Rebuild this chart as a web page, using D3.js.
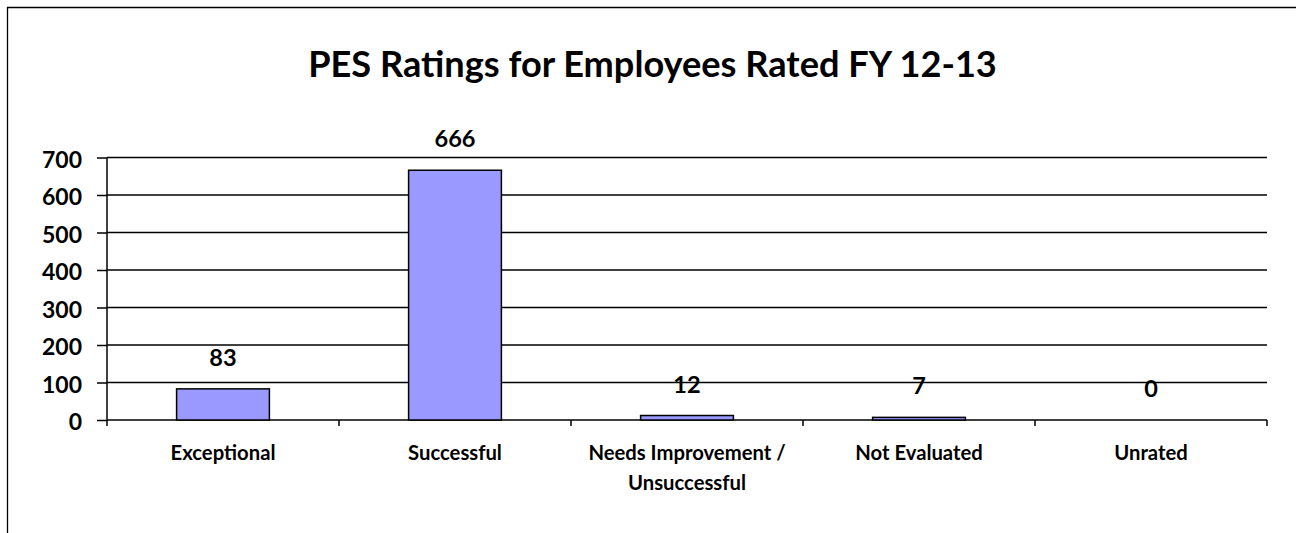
<!DOCTYPE html>
<html>
<head>
<meta charset="utf-8">
<script src="https://cdn.jsdelivr.net/npm/d3@7"></script>
<style>
  html, body { margin: 0; padding: 0; background: #fff; overflow: hidden; }
  svg { display: block; }
  text { font-family: Lato, "Open Sans", sans-serif; font-weight: bold; fill: #000; }
</style>
</head>
<body>
<svg id="chart" width="1296" height="533"></svg>
<script>
const title = "PES Ratings for Employees Rated FY 12-13";
const categories = ["Exceptional", "Successful", "Needs Improvement /\nUnsuccessful", "Not Evaluated", "Unrated"];
const values = [83, 666, 12, 7, 0];
const yTicks = [0, 100, 200, 300, 400, 500, 600, 700];

const svg = d3.select("#chart");
const plot = { left: 107, right: 1267, top: 157.5, bottom: 420 };

// outer chart border (only left and top edges fall inside the view)
svg.append("path")
  .attr("d", "M7.5,540V7.5H1300")
  .attr("fill", "none").attr("stroke", "#000").attr("stroke-width", 1.3);

const x = d3.scaleBand().domain(categories)
  .range([plot.left, plot.right])
  .paddingInner(0.6).paddingOuter(0.3);
const y = d3.scaleLinear().domain([0, 700]).range([plot.bottom, plot.top]);

// gridlines
svg.append("g").selectAll("line").data(yTicks.filter(d => d > 0)).join("line")
  .attr("x1", plot.left).attr("x2", plot.right)
  .attr("y1", d => y(d)).attr("y2", d => y(d))
  .attr("stroke", "#000").attr("stroke-width", 1.5);

// y axis
const yAxis = svg.append("g").attr("transform", `translate(${plot.left},0)`)
  .call(d3.axisLeft(y).tickValues(yTicks).tickSize(10).tickPadding(15).tickFormat(d3.format("d")));
yAxis.select(".domain").attr("stroke", "#000").attr("stroke-width", 1.5).attr("d", `M0,${plot.top}V${plot.bottom + 6}`);
yAxis.selectAll(".tick line").attr("stroke", "#000").attr("stroke-width", 1.5);
yAxis.selectAll(".tick text")
  .attr("font-size", 21).attr("dy", "0.42em")
  .style("font-family", "Lato, sans-serif").style("font-weight", "bold").attr("fill", "#000");
{
  const nodes = yAxis.selectAll(".tick text").nodes();
  const w = nodes[nodes.length - 1].getComputedTextLength();
  yAxis.selectAll(".tick text").attr("font-size", 21 * 40 / w);
}

// x axis line with boundary ticks
const boundaries = d3.range(categories.length + 1).map(i => plot.left + i * (plot.right - plot.left) / categories.length);
svg.append("line")
  .attr("x1", plot.left).attr("x2", plot.right)
  .attr("y1", plot.bottom).attr("y2", plot.bottom)
  .attr("stroke", "#000").attr("stroke-width", 1.5);
svg.append("g").selectAll("line").data(boundaries.slice(1)).join("line")
  .attr("x1", d => d).attr("x2", d => d)
  .attr("y1", plot.bottom).attr("y2", plot.bottom + 6)
  .attr("stroke", "#000").attr("stroke-width", 1.5);

// bars
const bw = (plot.right - plot.left) / categories.length / 2.5;
svg.append("g").selectAll("rect").data(values).join("rect")
  .attr("x", (d, i) => x(categories[i]) + x.bandwidth() / 2 - bw / 2)
  .attr("width", bw)
  .attr("y", d => y(d))
  .attr("height", d => plot.bottom - y(d))
  .attr("fill", "#9999FF").attr("stroke", "#000").attr("stroke-width", 1.5);

// data labels
const dl = svg.append("g").selectAll("text").data(values).join("text")
  .attr("x", (d, i) => x(categories[i]) + x.bandwidth() / 2)
  .attr("y", d => y(d) - 23)
  .attr("text-anchor", "middle")
  .attr("font-size", 21)
  .text(d => d);
{
  const w = dl.nodes()[1].getComputedTextLength();
  dl.attr("font-size", 21 * 41 / w);
}

// category labels
const xl = svg.append("g").selectAll("text").data(categories).join("text")
  .attr("x", d => x(d) + x.bandwidth() / 2)
  .attr("y", 460)
  .attr("text-anchor", "middle")
  .attr("font-size", 16);
xl.each(function(d) {
  const t = d3.select(this);
  d.split("\n").forEach((line, i) => {
    t.append("tspan").attr("x", t.attr("x")).attr("dy", i === 0 ? 0 : 30).text(line);
  });
});
{
  const w = xl.nodes()[0].getComputedTextLength();
  xl.attr("font-size", 16 * 105 / w);
}

// title
const tt = svg.append("text")
  .attr("x", 652.5).attr("y", 77)
  .attr("text-anchor", "middle")
  .attr("font-size", 32)
  .text(title);
{
  const w = tt.node().getComputedTextLength();
  tt.attr("font-size", 32 * 689 / w);
}
</script>
</body>
</html>
